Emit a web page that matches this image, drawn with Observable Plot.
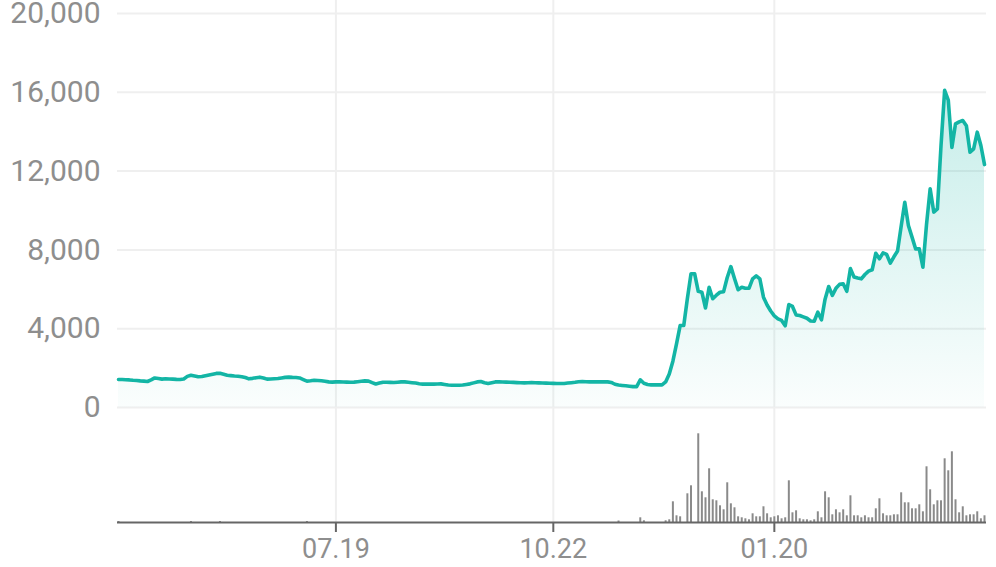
<!DOCTYPE html>
<html>
<head>
<meta charset="utf-8">
<script src="https://cdn.jsdelivr.net/npm/d3@7"></script>
<script src="https://cdn.jsdelivr.net/npm/@observablehq/plot@0.6"></script>
<style>
  html, body { margin: 0; padding: 0; background: #ffffff; }
  #chart { position: relative; width: 996px; height: 567px; }
  #chart svg { display: block; }
</style>
</head>
<body>
<div id="chart"></div>
<script>
// ---- data ----
const price = [
  1420,1420,1410,1400,1380,1370,1350,1340,1320,1400,
  1500,1470,1440,1460,1450,1440,1430,1425,1450,1580,
  1640,1600,1560,1570,1610,1650,1690,1730,1740,1690,
  1640,1620,1600,1590,1560,1520,1455,1480,1510,1540,
  1500,1440,1450,1460,1470,1500,1530,1540,1530,1525,
  1500,1420,1340,1360,1385,1370,1355,1330,1300,1290,
  1300,1300,1295,1290,1285,1290,1310,1330,1350,1340,
  1260,1190,1240,1285,1280,1275,1270,1285,1300,1300,
  1280,1260,1240,1210,1185,1185,1185,1185,1195,1200,
  1170,1140,1130,1130,1130,1140,1170,1200,1250,1300,
  1320,1260,1220,1260,1300,1300,1295,1290,1285,1275,
  1265,1255,1250,1260,1265,1260,1250,1240,1235,1230,
  1225,1220,1220,1220,1240,1260,1280,1310,1315,1305,
  1300,1300,1305,1300,1310,1300,1270,1180,1140,1120,
  1100,1080,1060,1060,1400,1230,1170,1150,1150,1150,
  1150,1300,1700,2350,3230,4160,4160,5530,6790,6790,
  5900,5855,5050,6100,5520,5700,5850,5880,6600,7150,
  6550,5980,6100,6050,6050,6530,6680,6530,5600,5200,
  4900,4650,4500,4420,4150,5230,5130,4700,4670,4600,
  4530,4390,4380,4840,4450,5500,6140,5690,6050,6250,
  6280,5900,7050,6620,6570,6530,6750,6920,6990,7830,
  7550,7850,7770,7330,7650,7940,9200,10420,9240,8650,
  8050,8050,7120,9300,11100,9920,10080,13300,16100,15600,
  13200,14400,14500,14570,14300,12960,13130,13975,13300,12330
];
const volume = [
  10,0,0,0,0,0,0,0,0,0, 0,0,0,0,0,0,0,0,0,0,
  10,0,0,0,0,0,0,0,10,0, 0,0,0,0,0,0,0,0,0,0,
  0,0,0,0,0,0,0,0,0,0, 0,0,10,0,0,0,0,0,0,0,
  0,0,0,0,0,0,0,0,0,0, 0,0,0,0,0,0,0,0,0,0,
  0,0,0,0,0,0,0,0,0,0, 0,0,0,0,0,0,0,0,0,0,
  0,0,0,0,0,0,0,0,0,0, 0,0,0,0,0,0,0,0,0,0,
  0,0,0,0,0,0,0,0,0,0, 0,0,0,0,0,0,0,0,15,0,
  0,0,0,0,47,17,0,0,0,0, 0,17,27,207,67,57,0,287,367,0,
  887,307,247,537,227,217,167,127,397,187, 147,57,47,37,27,87,57,57,157,87,
  47,57,67,37,47,417,97,117,37,27, 27,17,27,107,47,307,247,77,127,97,
  127,67,267,67,67,47,67,47,47,137, 237,87,67,67,77,77,297,197,197,137,
  137,177,107,557,327,177,217,217,637,517, 707,227,97,157,67,77,77,107,37,67
];
const tickIndex = [60, 120, 181];
const tickLabels = ["07.19", "10.22", "01.20"];
const priceTicks = [0, 4000, 8000, 12000, 16000, 20000];

// ---- build ----
const data = price.map((p, i) => ({ i, price: p, volume: volume[i] }));
const N = price.length;
const labelOf = new Map(tickIndex.map((t, k) => [t, tickLabels[k]]));
const FONT = "Roboto, 'Liberation Sans', Arial, sans-serif";
const TEAL = "#13b5a5";
const GRID = "#efefef";
const TEXT = "#8e8e8e";

const topPlot = Plot.plot({
  width: 996, height: 430,
  marginTop: 0, marginBottom: 0, marginLeft: 117, marginRight: 10,
  style: { fontFamily: FONT, color: TEXT, background: "transparent" },
  x: { domain: [0, N - 1], range: [118, 984], axis: null },
  y: { domain: [0, 20000], range: [407, 13] },
  marks: [
    Plot.gridY(priceTicks, { stroke: GRID, strokeOpacity: 1, strokeWidth: 2 }),
    Plot.gridX(tickIndex, { stroke: GRID, strokeOpacity: 1, strokeWidth: 2 }),
    Plot.areaY(data, { x: "i", y: "price", fill: "url(#areaGrad)" }),
    Plot.lineY(data, { x: "i", y: "price", stroke: TEAL, strokeWidth: 3.6, strokeLinejoin: "round" }),
    Plot.axisY(priceTicks, {
      label: null, tickSize: 0, tickPadding: 17, tickFormat: d3.format(","),
      fontSize: 30, fill: TEXT
    })
  ]
});
d3.select(topPlot).insert("defs", ":first-child").html(
  '<linearGradient id="areaGrad" x1="0" y1="0" x2="0" y2="1">' +
  '<stop offset="0" stop-color="' + TEAL + '" stop-opacity="0.24"/>' +
  '<stop offset="1" stop-color="' + TEAL + '" stop-opacity="0.02"/>' +
  '</linearGradient>'
);

const bottomPlot = Plot.plot({
  width: 996, height: 137,
  marginTop: 0, marginBottom: 45, marginLeft: 117, marginRight: 10,
  style: { fontFamily: FONT, color: TEXT, background: "transparent" },
  x: { domain: [0, N - 1], range: [118, 984] },
  y: { domain: [0, 900], range: [92, 2], axis: null },
  marks: [
    Plot.gridX(tickIndex, { stroke: GRID, strokeOpacity: 1, strokeWidth: 2 }),
    Plot.ruleX(data.filter(d => d.volume > 0), { x: "i", y1: 0, y2: "volume", stroke: "#8a8a8a", strokeWidth: 2 }),
    Plot.ruleY([0], { stroke: "#666666", strokeWidth: 2 }),
    Plot.axisX(tickIndex, {
      label: null, tickSize: 10, tickPadding: 6, tickFormat: d => labelOf.get(d),
      stroke: "#666666", strokeWidth: 2, fill: TEXT, fontSize: 27
    })
  ]
});

const chart = document.getElementById("chart");
chart.appendChild(topPlot);
chart.appendChild(bottomPlot);
</script>
</body>
</html>
